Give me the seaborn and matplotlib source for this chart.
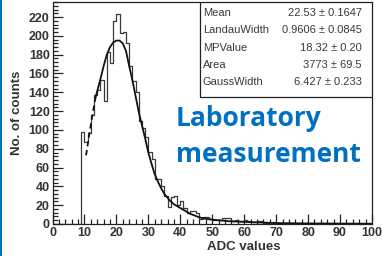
import numpy as np
import pandas as pd
import matplotlib
matplotlib.use("Agg")
import matplotlib.pyplot as plt
import seaborn as sns
from matplotlib.patches import Rectangle
from matplotlib.ticker import MultipleLocator

# ---- data ----
bin_left = list(range(9, 72))
counts = [98, 87, 97, 116, 137, 142, 153, 131, 183, 171,
          216, 223, 203, 204, 192, 168, 152, 140, 110, 102,
          92, 77, 69, 48, 48, 40, 30, 18, 29, 30,
          20, 24, 17, 12, 14, 14, 12, 5, 7, 7,
          5, 4, 4, 4, 6, 6, 6, 3, 4, 3,
          3, 4, 3, 2, 2, 3, 3, 1, 1, 0,
          2, 1, 0]

fit_dash_x = [10.5, 11.5, 12.5, 13.5]
fit_dash_y = [73, 95, 116, 135]
fit_x = [13.5, 15, 16, 17, 18, 19, 20, 21, 22, 23, 24, 25, 26, 27, 28, 29, 30,
         31, 32, 33, 34, 35, 36, 37, 38, 40, 43, 46, 49, 55, 62, 70, 80, 100]
fit_y = [135, 154, 168, 180, 188, 193, 195, 195, 192, 184, 168, 153, 136, 119,
         105, 91, 76, 64, 53, 45, 38, 32, 28, 24, 21, 17, 11, 7, 5, 3, 2, 1, 0.6, 0.3]

stat_names = ["Mean", "LandauWidth", "MPValue", "Area", "GaussWidth"]
stat_values = ["22.53 \u00b1 0.1647", "0.9606 \u00b1 0.0845", "18.32 \u00b1 0.20",
               "3773 \u00b1 69.5", "6.427 \u00b1 0.233"]

x_label = "ADC values"
y_label = "No. of counts"
annotation = "Laboratory\nmeasurement"

# ---- figure ----
sns.set_style("ticks")
plt.rcParams["font.family"] = ["Liberation Sans", "DejaVu Sans"]

fig = plt.figure(figsize=(3.82, 2.56), dpi=100)
ax = fig.add_axes([52.5 / 382, 32 / 256, 319.5 / 382, 222 / 256])

df = pd.DataFrame({"x": [b + 0.5 for b in bin_left], "w": counts})
sns.histplot(data=df, x="x", weights="w", binwidth=1, binrange=(0, 100),
             element="step", fill=False, color="#3a3a3a", linewidth=0.9, ax=ax)

sns.lineplot(x=fit_dash_x, y=fit_dash_y, color="#111111", linewidth=1.3,
             linestyle=(0, (3, 2)), ax=ax)
sns.lineplot(x=fit_x, y=fit_y, color="#111111", linewidth=1.3, ax=ax)

ax.set_xlim(0, 100)
ax.set_ylim(0, 236)
ax.xaxis.set_major_locator(MultipleLocator(10))
ax.xaxis.set_minor_locator(MultipleLocator(2))
ax.yaxis.set_major_locator(MultipleLocator(20))
ax.yaxis.set_minor_locator(MultipleLocator(4))
ax.tick_params(which="both", direction="in", top=False, right=False,
               labelsize=9, labelcolor="#333333", color="#222222", width=0.9)
ax.tick_params(which="major", length=7)
ax.tick_params(which="minor", length=3.5)
ax.tick_params(axis="x", pad=2)
ax.tick_params(axis="y", pad=2)
for lab in ax.get_xticklabels() + ax.get_yticklabels():
    lab.set_fontweight("bold")
for s in ax.spines.values():
    s.set_color("#222222")
    s.set_linewidth(0.9)

ax.set_xlabel(x_label, fontsize=9.5, fontweight="bold", color="#333333",
              labelpad=1)
ax.xaxis.set_label_coords(0.60, -0.075)
ax.set_ylabel(y_label, fontsize=9.5, fontweight="bold", color="#333333",
              labelpad=4)

# stats box
box_left = 0.4617
box_bottom = 0.572
ax.add_patch(Rectangle((box_left, box_bottom), 1 - box_left, 1 - box_bottom,
                       transform=ax.transAxes, fill=True, facecolor="white",
                       edgecolor="#222222", linewidth=0.9, zorder=5))
row_y = [0.950, 0.874, 0.793, 0.716, 0.640]
for name, val, yy in zip(stat_names, stat_values, row_y):
    ax.text(0.471, yy, name, transform=ax.transAxes, fontsize=8,
            color="#3a3a3a", va="center", ha="left", zorder=6)
    ax.text(0.9687, yy, val, transform=ax.transAxes, fontsize=8,
            color="#3a3a3a", va="center", ha="right", zorder=6)

# blue annotation
fig.text(176 / 382, 1 - 119 / 256, annotation.split("\n")[0],
         fontsize=19, fontweight="bold", color="#0070C0",
         family=["Open Sans", "DejaVu Sans"], va="center", ha="left")
fig.text(176 / 382, 1 - 154 / 256, annotation.split("\n")[1],
         fontsize=19, fontweight="bold", color="#0070C0",
         family=["Open Sans", "DejaVu Sans"], va="center", ha="left")

# blue border at the left edge
fig.add_artist(Rectangle((0, 0), 2 / 382, 1, transform=fig.transFigure,
                         facecolor="#0070C0", edgecolor="none"))

fig.savefig("out.png", dpi=100)
